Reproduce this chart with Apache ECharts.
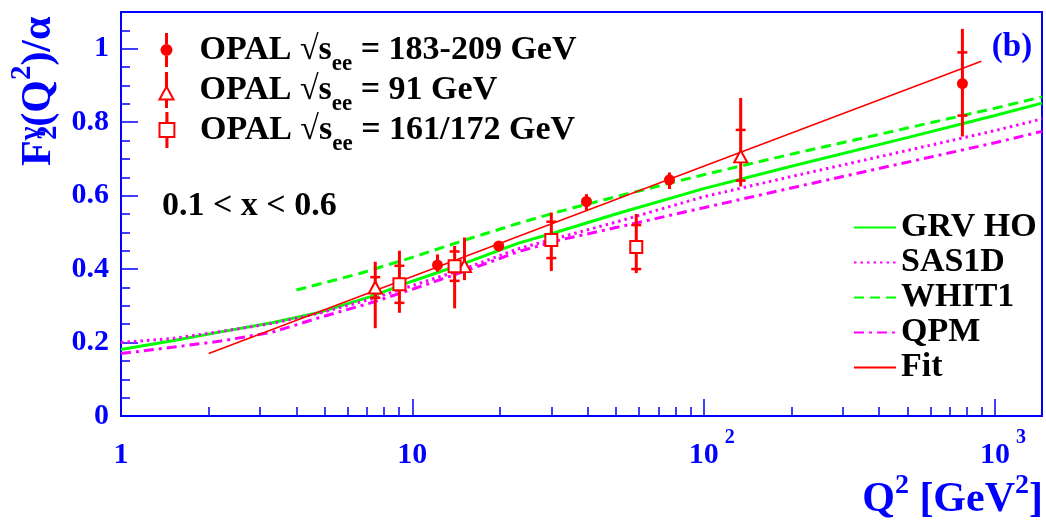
<!DOCTYPE html>
<html><head><meta charset="utf-8">
<script src="https://cdn.jsdelivr.net/npm/echarts@6/dist/echarts.min.js"></script>
<style>html,body{margin:0;padding:0;background:#fff}#c{width:1046px;height:522px}</style>
</head><body><div id="c"></div>
<script>
// ---------- axis ticks ----------
const xMin = 1, xMax = 1450, yMin = 0, yMax = 1.1;
const xMajorTicks = [1, 10, 100, 1000];
const xMinorTicks = [2,3,4,5,6,7,8,9,20,30,40,50,60,70,80,90,200,300,400,500,600,700,800,900];
const yMajorTicks = [0, 0.2, 0.4, 0.6, 0.8, 1];
const yMinorTicks = [0.05,0.1,0.15,0.25,0.3,0.35,0.45,0.5,0.55,0.65,0.7,0.75,0.85,0.9,0.95,1.05];

// ---------- OPAL data (Q^2 in GeV^2, F2/alpha) ----------
const name183 = 'OPAL √s_ee = 183-209 GeV';
const q183 = [12.2, 19.8, 39.6, 76.3, 773];
const f183 = [0.411, 0.463, 0.584, 0.643, 0.905];
const lo183 = [0.393, 0.452, 0.559, 0.618, 0.761];
const hi183 = [0.440, 0.475, 0.604, 0.663, 1.054];
const sLo183 = [null, null, null, null, 0.818];
const sHi183 = [null, null, null, null, 0.990];

const name91 = 'OPAL √s_ee = 91 GeV';
const q91 = [7.46, 15.1, 134];
const f91 = [0.350, 0.408, 0.707];
const lo91 = [0.239, 0.370, 0.625];
const hi91 = [0.420, 0.486, 0.866];
const sLo91 = [0.322, null, 0.641];
const sHi91 = [0.378, null, 0.779];

const name161 = 'OPAL √s_ee = 161/172 GeV';
const q161 = [9.03, 13.97, 30.0, 58.7];
const f161 = [0.359, 0.408, 0.479, 0.460];
const lo161 = [0.281, 0.293, 0.395, 0.389];
const hi161 = [0.450, 0.463, 0.554, 0.550];
const sLo161 = [0.308, 0.368, 0.430, 0.400];
const sHi161 = [0.409, 0.448, 0.529, 0.520];

// ---------- model curves ----------
const qCurve = [1, 1.5, 2.2, 3.3, 4.8, 7.2, 10, 15, 23, 32, 50, 100, 200, 500, 1000, 1450];
const grvHO = [0.181, 0.205, 0.229, 0.254, 0.282, 0.325, 0.367, 0.415, 0.470, 0.503, 0.550, 0.619, 0.680, 0.758, 0.818, 0.852];
const sas1D = [0.200, 0.211, 0.230, 0.252, 0.280, 0.318, 0.355, 0.400, 0.455, 0.486, 0.528, 0.597, 0.652, 0.723, 0.777, 0.809];
const qpm   = [0.170, 0.187, 0.204, 0.228, 0.268, 0.308, 0.345, 0.393, 0.447, 0.479, 0.513, 0.567, 0.621, 0.691, 0.744, 0.775];
const qWhit = [4, 6.6, 10, 15, 23, 32, 50, 100, 200, 500, 1000, 1450];
const whit1 = [0.343, 0.388, 0.432, 0.478, 0.524, 0.557, 0.597, 0.657, 0.713, 0.784, 0.838, 0.869];
const qFit = [2, 10, 100, 898];
const fit  = [0.170, 0.380, 0.680, 0.966];

// ---------- styling ----------
const FONT = 'Liberation Serif';
const BLUE = '#0000ff', RED = '#ff0000', GREEN = '#00ff00', MAG = '#ff00ff';
const L = Math.log10;

function curve(q, f) { return q.map((v, i) => [L(v), f[i]]); }
function errData(q, lo, hi, sLo, sHi) {
  return q.map((v, i) => [L(v), lo[i], hi[i], sLo[i] == null ? -1 : sLo[i], sHi[i] == null ? -1 : sHi[i]]);
}
function errRender(params, api) {
  const x = api.value(0);
  const a = api.coord([x, api.value(1)]);
  const b = api.coord([x, api.value(2)]);
  const ch = [{type: 'line', shape: {x1: a[0], y1: a[1], x2: b[0], y2: b[1]}, style: {stroke: RED, lineWidth: 3}}];
  [api.value(3), api.value(4)].forEach(v => {
    if (v >= 0) {
      const p = api.coord([x, v]);
      ch.push({type: 'line', shape: {x1: p[0] - 5, y1: p[1], x2: p[0] + 5, y2: p[1]}, style: {stroke: RED, lineWidth: 2.5}});
    }
  });
  return {type: 'group', children: ch};
}

const iconCircle = 'path://M4.5,0h3v11h-3z M6,11 a6,6 0 1,1 0,12 a6,6 0 1,1 0,-12z M4.5,23h3v11h-3z';
const iconTri = 'path://M6.5,0h1v13.5h-1z M7,13.5 L14,26.5 L0,26.5 Z M6.5,26.5h1v7.5h-1z';
const iconSq = 'path://M6.5,0h1v9.5h-1z M0,9.5 h14 v13 h-14 Z M6.5,22.5h1v9.5h-1z';

const legendText = {
  rich: {
    t: {fontFamily: FONT, fontWeight: 'bold', fontSize: 34, color: '#000', lineHeight: 36},
    e: {fontFamily: FONT, fontWeight: 'bold', fontSize: 23, color: '#000', lineHeight: 23, padding: [28, 0, 0, 0]}
  }
};
function legendFmt(n) {
  const p = n.split('_ee');
  return '{t|' + p[0] + '}{e|ee}{t|' + p[1] + '}';
}
function dataLegend(name, icon, left, top) {
  return {
    data: [{name: name, icon: icon}], left: left, top: top, padding: 0,
    itemWidth: 56, itemHeight: 34, selectedMode: false,
    formatter: legendFmt, textStyle: legendText
  };
}

const tickFont = {fontFamily: FONT, fontWeight: 'bold', fontSize: 30, color: BLUE};

const chart = echarts.init(document.getElementById('c'), null, {renderer: 'canvas'});
chart.setOption({
  animation: false,
  backgroundColor: '#fff',
  grid: {left: 121, right: 4, top: 12, bottom: 106, show: true, borderColor: BLUE, borderWidth: 2,
         containLabel: false, outerBoundsMode: 'none'},
  xAxis: [{
    type: 'value', min: L(xMin), max: L(xMax), position: 'bottom',
    axisLine: {show: true, onZero: false, lineStyle: {color: BLUE, width: 2}},
    axisTick: {show: true, inside: true, length: 17, lineStyle: {color: BLUE, width: 1.5}, customValues: xMajorTicks.map(L)},
    axisLabel: {show: true, margin: 16, customValues: xMajorTicks.map(L),
      formatter: function (v) {
        const e = Math.round(v);
        if (e === 0) return '{n|1}';
        if (e === 1) return '{n|10}';
        return '{p|}{n|10}{s|' + e + '}';
      },
      rich: {
        n: Object.assign({lineHeight: 30, padding: [16, 0, 0, 0]}, tickFont),
        s: Object.assign({}, tickFont, {fontSize: 20, lineHeight: 20, padding: [0, 0, 18, 6]}),
        p: {width: 16}
      }
    },
    splitLine: {show: false}
  }, {
    type: 'value', min: L(xMin), max: L(xMax), position: 'bottom',
    axisLine: {show: false},
    axisTick: {show: true, inside: true, length: 9, lineStyle: {color: BLUE, width: 1.5}, customValues: xMinorTicks.map(L)},
    axisLabel: {show: false}, splitLine: {show: false}
  }],
  yAxis: [{
    type: 'value', min: yMin, max: yMax, position: 'left',
    axisLine: {show: true, onZero: false, lineStyle: {color: BLUE, width: 2}},
    axisTick: {show: true, inside: true, length: 17, lineStyle: {color: BLUE, width: 1.5}, customValues: yMajorTicks},
    axisLabel: Object.assign({show: true, margin: 12, customValues: yMajorTicks}, tickFont),
    splitLine: {show: false}
  }, {
    type: 'value', min: yMin, max: yMax, position: 'left',
    axisLine: {show: false},
    axisTick: {show: true, inside: true, length: 9, lineStyle: {color: BLUE, width: 1.5}, customValues: yMinorTicks},
    axisLabel: {show: false}, splitLine: {show: false}
  }],
  legend: [
    dataLegend(name183, iconCircle, 160.5, 24.5),
    dataLegend(name91, iconTri, 158.5, 64.5),
    dataLegend(name161, iconSq, 158.5, 104.5),
    {
      data: ['GRV HO', 'SAS1D', 'WHIT1', 'QPM', 'Fit'], orient: 'vertical', left: 853, top: 210, padding: 0,
      itemWidth: 42, itemHeight: 14, itemGap: 0, selectedMode: false,
      itemStyle: {opacity: 0},
      textStyle: {fontFamily: FONT, fontWeight: 'bold', fontSize: 34, color: '#000', lineHeight: 35}
    }
  ],
  series: [
    {type: 'line', name: 'GRV HO', data: curve(qCurve, grvHO), symbol: 'none', z: 2,
     lineStyle: {color: GREEN, width: 3}, itemStyle: {color: GREEN}},
    {type: 'line', name: 'SAS1D', data: curve(qCurve, sas1D), symbol: 'none', z: 2,
     lineStyle: {color: MAG, width: 3, type: [2.5, 4]}, itemStyle: {color: MAG}},
    {type: 'line', name: 'WHIT1', data: curve(qWhit, whit1), symbol: 'none', z: 2,
     lineStyle: {color: GREEN, width: 3, type: [10, 6]}, itemStyle: {color: GREEN}},
    {type: 'line', name: 'QPM', data: curve(qCurve, qpm), symbol: 'none', z: 2,
     lineStyle: {color: MAG, width: 3, type: [10, 5, 3, 5]}, itemStyle: {color: MAG}},
    {type: 'line', name: 'Fit', data: curve(qFit, fit), symbol: 'none', z: 2,
     lineStyle: {color: RED, width: 1.5}, itemStyle: {color: RED}},
    {type: 'custom', name: 'err183', renderItem: errRender, data: errData(q183, lo183, hi183, sLo183, sHi183), encode: {x: 0, y: [1, 2]}, z: 3},
    {type: 'custom', name: 'err91', renderItem: errRender, data: errData(q91, lo91, hi91, sLo91, sHi91), encode: {x: 0, y: [1, 2]}, z: 3},
    {type: 'custom', name: 'err161', renderItem: errRender, data: errData(q161, lo161, hi161, sLo161, sHi161), encode: {x: 0, y: [1, 2]}, z: 3},
    {type: 'scatter', name: name183, data: curve(q183, f183), symbol: 'circle', symbolSize: 11, z: 4,
     itemStyle: {color: RED, opacity: 1}},
    {type: 'scatter', name: name91, data: curve(q91, f91), symbol: 'triangle', symbolSize: [13, 12], z: 4,
     itemStyle: {color: '#fff', borderColor: RED, borderWidth: 2, opacity: 1}},
    {type: 'scatter', name: name161, data: curve(q161, f161), symbol: 'rect', symbolSize: 12, z: 4,
     itemStyle: {color: '#fff', borderColor: RED, borderWidth: 2, opacity: 1}}
  ],
  graphic: [
    {type: 'group', x: 32, y: 166, rotation: Math.PI / 2, children: [
      {type: 'text', x: 0, y: 0, style: {
        text: '{n|F}{g|γ}{n|(Q}{s|2}{n|)/α}', align: 'left', verticalAlign: 'middle',
        rich: {
          n: {fontFamily: FONT, fontWeight: 'bold', fontSize: 42, fill: BLUE, lineHeight: 44, padding: [14, 0, 0, 0]},
          g: {fontFamily: FONT, fontWeight: 'bold', fontSize: 29, fill: BLUE, lineHeight: 29, padding: [14.5, 0, 14.5, 0]},
          s: {fontFamily: FONT, fontWeight: 'bold', fontSize: 29, fill: BLUE, lineHeight: 29, padding: [5.5, 0, 23.5, 0]}
        }}},
      {type: 'text', x: 26, y: 17, style: {text: '2', align: 'left', verticalAlign: 'middle',
        fontFamily: FONT, fontWeight: 'bold', fontSize: 29, fill: BLUE}}
    ]},
    {type: 'text', x: 1043, y: 494, style: {
      text: '{n|Q}{s|2}{n| [GeV}{s|2}{n|]}', align: 'right', verticalAlign: 'middle',
      rich: {
        n: {fontFamily: FONT, fontWeight: 'bold', fontSize: 42, fill: BLUE, lineHeight: 44, padding: [12, 0, 0, 0]},
        s: {fontFamily: FONT, fontWeight: 'bold', fontSize: 28, fill: BLUE, lineHeight: 28, padding: [6, 0, 22, 0]}
      }}},
    {type: 'text', x: 1012, y: 47, style: {text: '(b)', align: 'center', verticalAlign: 'middle',
      fontFamily: FONT, fontWeight: 'bold', fontSize: 33, fill: BLUE}},
    {type: 'text', x: 162, y: 206, style: {text: '0.1 < x < 0.6', align: 'left', verticalAlign: 'middle',
      fontFamily: FONT, fontWeight: 'bold', fontSize: 34, fill: '#000'}}
  ]
});
</script>
</body></html>
